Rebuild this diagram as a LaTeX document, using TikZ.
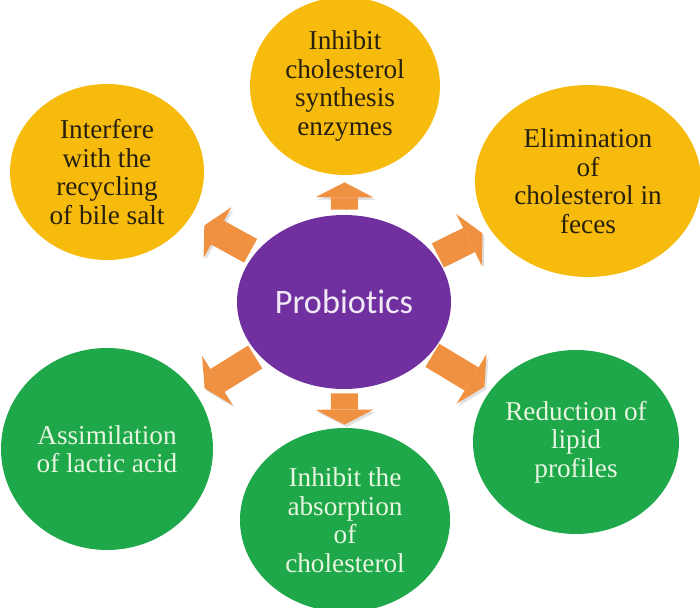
\documentclass[tikz,border=0pt]{standalone}
\usepackage{fontspec}
\setmainfont{Liberation Serif}
\newfontfamily\probfont[Ligatures=NoCommon]{Carlito}
\usetikzlibrary{shapes.geometric,arrows.meta}

\definecolor{probpurple}{RGB}{112,48,160}
\definecolor{goldfill}{RGB}{246,187,12}
\definecolor{leaffill}{RGB}{30,168,74}
\definecolor{flowcolor}{RGB}{240,145,65}
\definecolor{darktext}{RGB}{40,32,14}
\definecolor{lighttext}{RGB}{232,245,224}

\tikzset{
    bubble/.style={ellipse, inner sep=0pt, align=center,
        font=\fontsize{15.5}{16.2}\selectfont},
    goldbubble/.style={bubble, fill=goldfill, text=darktext},
    leafbubble/.style={bubble, fill=leaffill, text=lighttext},
    flow/.style={draw=flowcolor, line width=0.54cm,
        -{Triangle[width=1.16cm,length=0.3cm,line width=0pt]},
        preaction={draw=black!12, transform canvas={shift={(0.04,-0.05)}}}}
}

\begin{document}
\begin{tikzpicture}
        \useasboundingbox (0,0) rectangle (14,12.16);
        %\draw[step=1.0,black,thin] (0,0) grid (14,12);

        \node[ellipse, fill=probpurple, text=white!90!probpurple,
            minimum width=4.28cm, minimum height=3.48cm,
            font=\probfont\fontsize{19.5}{22}\selectfont] (prob) at (6.88,6.12) {Probiotics};

        \node[goldbubble, minimum width=3.80cm, minimum height=3.56cm] (enz) at (6.90,10.44)
            {Inhibit\\cholesterol\\synthesis\\enzymes};
        \node[goldbubble, minimum width=3.88cm, minimum height=3.52cm] (bile) at (2.14,8.72)
            {Interfere\\with the\\recycling\\of bile salt};
        \node[goldbubble, minimum width=4.52cm, minimum height=3.84cm] (feces) at (11.76,8.54)
            {Elimination\\of\\cholesterol in\\feces};
        \node[leafbubble, minimum width=4.24cm, minimum height=4.04cm] (lactic) at (2.14,3.18)
            {Assimilation\\of lactic acid};
        \node[leafbubble, minimum width=4.20cm, minimum height=3.68cm] (absorb) at (6.90,1.76)
            {Inhibit the\\absorption\\of\\cholesterol};
        \node[leafbubble, minimum width=4.12cm, minimum height=3.68cm] (lipid) at (11.52,3.32)
            {Reduction of\\lipid\\profiles};

        \foreach \target/\gapa/\gapb in {enz/0.10/0.14, bile/0.10/0.32, feces/0.05/0.17,
                lactic/0.08/0.20, absorb/0.08/0.06, lipid/0.05/0.14}
            \draw[flow, shorten <=\gapa cm, shorten >=\gapb cm] (prob) -- (\target);
\end{tikzpicture}
\end{document}
